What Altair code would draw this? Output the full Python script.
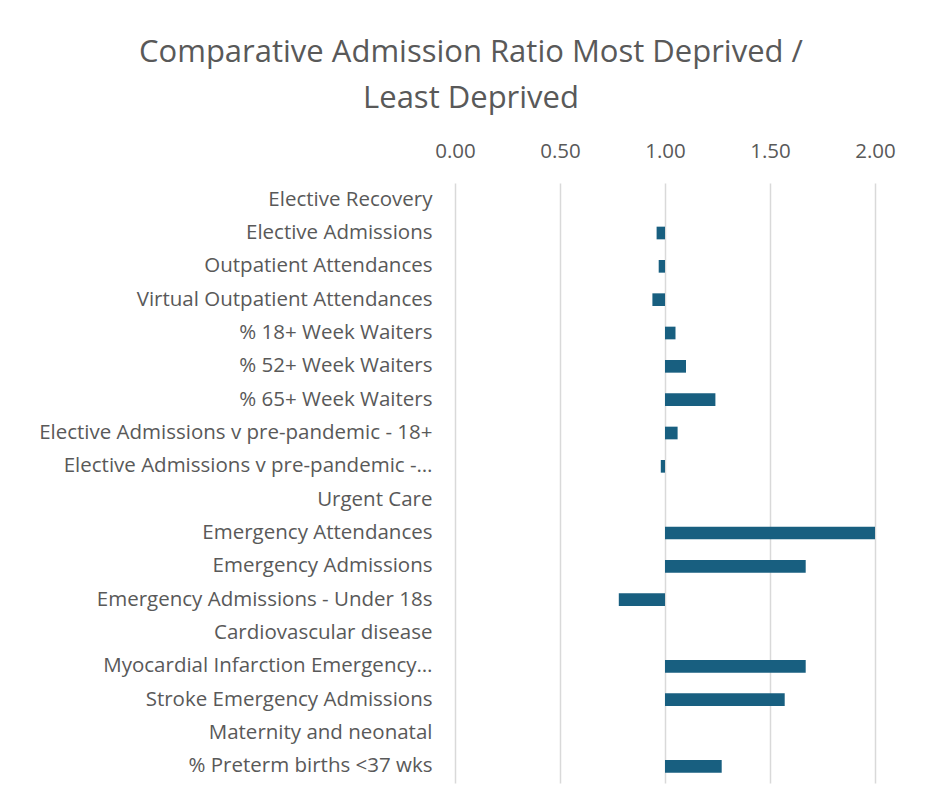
import altair as alt
import pandas as pd

categories = [
    "Elective Recovery",
    "Elective Admissions",
    "Outpatient Attendances",
    "Virtual Outpatient Attendances",
    "% 18+ Week Waiters",
    "% 52+ Week Waiters",
    "% 65+ Week Waiters",
    "Elective Admissions v pre-pandemic - 18+",
    "Elective Admissions v pre-pandemic -…",
    "Urgent Care",
    "Emergency Attendances",
    "Emergency Admissions",
    "Emergency Admissions - Under 18s",
    "Cardiovascular disease",
    "Myocardial Infarction Emergency…",
    "Stroke Emergency Admissions",
    "Maternity and neonatal",
    "% Preterm births <37 wks",
]
ratios = [None, 0.96, 0.97, 0.94, 1.05, 1.10, 1.24, 1.06, 0.98, None,
          2.00, 1.67, 0.78, None, 1.67, 1.57, None, 1.27]
tick_values = [0.0, 0.5, 1.0, 1.5, 2.0]
baseline = 1.0

df = pd.DataFrame({"category": categories, "ratio": ratios})

TEXT = "#595959"
FONT = "Open Sans"

chart = alt.Chart(df).mark_bar(color="#185F80").encode(
    y=alt.Y("category:N", sort=categories,
            scale=alt.Scale(domain=categories, paddingInner=0.62, paddingOuter=0.31),
            axis=alt.Axis(title=None, labelFont=FONT, labelFontSize=20.5,
                          labelColor=TEXT, labelPadding=23, ticks=False,
                          domain=False, grid=False, labelLimit=500)),
    x=alt.X("ratio:Q",
            scale=alt.Scale(domain=[0, 2], nice=False, zero=False),
            axis=alt.Axis(orient="top", title=None, values=tick_values,
                          format=".2f", labelFont=FONT, labelFontSize=20.5,
                          labelColor=TEXT, labelPadding=22, ticks=False,
                          labelFlush=False, labelBound=False,
                          domain=False, grid=True, gridColor="#D9D9D9",
                          gridWidth=1.5)),
    x2=alt.datum(baseline),
).properties(
    width=420,
    height=600,
    title=alt.TitleParams(
        text=["Comparative Admission Ratio Most Deprived /", "Least Deprived"],
        font=FONT, fontSize=31, fontWeight="normal", color=TEXT,
        anchor="middle", dx=-194, lineHeight=46, offset=26,
    ),
    autosize=alt.AutoSizeParams(type="none"),
    padding={"left": 447, "top": 175, "right": 35, "bottom": 15},
).configure(background="white", view=alt.ViewConfig(stroke=None))

chart.save("out.html", embed_options={"renderer": "svg", "actions": False})
